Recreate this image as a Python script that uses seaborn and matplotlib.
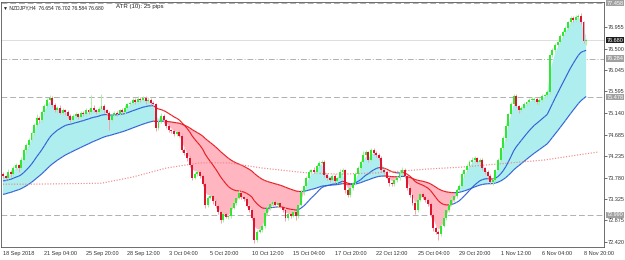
import numpy as np
import pandas as pd
import matplotlib
matplotlib.use("Agg")
import matplotlib.pyplot as plt
import matplotlib.transforms as mtransforms
from matplotlib.collections import LineCollection
import seaborn as sns

# ---- data (NZDJPY H4) ----
first_open = 73.85
closes = [
    73.81, 73.77, 73.90, 73.85, 73.98, 74.04, 73.98, 74.15, 74.36, 74.47, 74.57, 74.72, 74.89, 75.04, 74.99, 75.16,
    75.29, 75.42, 75.46, 75.31, 75.20, 75.25, 75.14, 75.20, 75.16, 75.08, 74.99, 75.08, 75.12, 75.06, 75.14, 75.12,
    75.20, 75.16, 75.25, 75.20, 75.16, 75.23, 75.29, 75.20, 75.14, 74.99, 75.10, 75.14, 75.12, 75.20, 75.16, 75.25,
    75.33, 75.35, 75.42, 75.37, 75.44, 75.42, 75.46, 75.39, 75.42, 75.35, 75.33, 74.82, 74.95, 75.08, 74.99, 74.87,
    74.78, 74.76, 74.70, 74.74, 74.66, 74.36, 74.30, 74.19, 74.04, 73.77, 73.85, 73.90, 73.81, 73.64, 73.20, 73.35,
    73.39, 73.28, 73.18, 73.05, 72.88, 73.01, 72.95, 72.97, 73.14, 73.24, 73.35, 73.45, 73.37, 73.33, 73.18, 73.10,
    72.93, 72.46, 72.63, 72.67, 72.76, 73.03, 73.14, 73.22, 73.26, 73.20, 73.24, 73.16, 73.10, 72.93, 73.01, 72.97,
    73.05, 72.97, 73.20, 73.47, 73.60, 73.77, 73.90, 73.94, 73.90, 74.02, 74.09, 74.11, 73.83, 73.77, 73.73, 73.81,
    73.71, 73.77, 73.90, 73.94, 73.52, 73.41, 73.56, 73.66, 73.85, 73.98, 74.11, 74.25, 74.32, 74.15, 74.36, 74.30,
    74.25, 74.19, 73.94, 73.90, 73.77, 73.66, 73.64, 73.73, 73.77, 73.88, 73.94, 73.81, 73.56, 73.41, 73.24, 73.10,
    73.31, 73.43, 73.37, 73.31, 73.22, 72.99, 72.72, 72.63, 72.59, 72.76, 72.93, 73.10, 73.20, 73.31, 73.39, 73.52,
    73.60, 73.85, 73.94, 74.02, 74.11, 74.15, 74.19, 74.11, 74.15, 73.98, 73.90, 73.81, 73.69, 73.73, 73.94, 74.15,
    74.40, 74.61, 74.87, 75.12, 75.33, 75.50, 75.29, 75.20, 75.25, 75.33, 75.37, 75.42, 75.42, 75.44, 75.37, 75.42,
    75.50, 75.52, 75.58, 76.36, 76.47, 76.58, 76.64, 76.76, 76.85, 76.93, 77.06, 77.14, 77.10, 77.17, 77.19, 77.06,
    76.654, 76.680,
]
# wick lengths in pips (0.01)
wick_up = [
    4, 3, 6, 3, 5, 4, 3, 6, 4, 3, 5, 4, 3, 8, 4, 5, 4, 3, 6, 3, 5, 4, 6, 5, 3, 4, 4, 5, 4, 3, 5, 4,
    4, 3, 27, 5, 3, 4, 25, 4, 3, 4, 3, 4, 5, 3, 4, 6, 3, 5, 4, 4, 6, 3, 5, 4, 5, 3, 4, 3, 5, 6, 4, 3,
    4, 3, 5, 3, 4, 5, 4, 3, 6, 4, 5, 4, 3, 4, 5, 4, 5, 3, 4, 4, 3, 5, 4, 3, 5, 4, 3, 6, 4, 3, 4, 3,
    4, 3, 5, 4, 6, 4, 5, 3, 4, 5, 4, 3, 4, 5, 4, 3, 4, 3, 5, 4, 3, 5, 4, 3, 6, 4, 4, 3, 5, 4, 3, 4,
    4, 3, 5, 4, 3, 4, 5, 3, 4, 5, 4, 8, 4, 3, 5, 4, 3, 4, 5, 4, 3, 4, 3, 5, 4, 3, 6, 4, 3, 4, 5, 3,
    4, 3, 5, 4, 3, 4, 5, 3, 4, 5, 4, 3, 4, 5, 3, 4, 4, 5, 3, 4, 5, 6, 4, 3, 5, 4, 3, 4, 5, 4, 3, 4,
    3, 4, 5, 3, 4, 5, 4, 3, 4, 5, 3, 4, 5, 4, 3, 4, 4, 3, 4, 3, 5, 4, 3, 4, 5, 4, 3, 5, 4, 3, 4, 5,
    3, 2,
]
wick_dn = [
    5, 4, 3, 6, 4, 5, 8, 4, 3, 6, 4, 3, 5, 4, 6, 3, 4, 5, 3, 4, 4, 5, 3, 4, 6, 4, 3, 4, 5, 4, 3, 5,
    4, 5, 3, 4, 4, 3, 4, 5, 4, 20, 4, 3, 4, 5, 3, 4, 4, 3, 5, 4, 3, 4, 3, 5, 4, 3, 4, 6, 4, 3, 5, 4,
    3, 4, 5, 4, 3, 5, 4, 6, 4, 5, 3, 4, 5, 4, 6, 4, 3, 5, 4, 3, 5, 4, 3, 4, 5, 3, 4, 3, 5, 4, 3, 4,
    5, 6, 4, 3, 4, 5, 3, 4, 3, 5, 4, 3, 4, 6, 4, 5, 3, 8, 4, 3, 5, 4, 3, 4, 3, 5, 4, 3, 4, 5, 4, 3,
    5, 4, 3, 4, 6, 4, 3, 5, 4, 3, 4, 3, 5, 4, 3, 4, 4, 3, 5, 4, 3, 6, 4, 3, 4, 5, 3, 4, 5, 4, 3, 8,
    4, 3, 5, 4, 3, 5, 6, 4, 12, 4, 3, 5, 4, 3, 4, 5, 3, 4, 5, 4, 3, 4, 5, 3, 4, 5, 4, 3, 4, 6, 4, 3,
    4, 3, 5, 4, 3, 4, 3, 5, 4, 3, 4, 5, 3, 4, 3, 5, 4, 3, 5, 4, 3, 4, 5, 3, 4, 5, 3, 4, 3, 4, 5, 4,
    3, 7,
]
date_labels = ["18 Sep 2018", "21 Sep 04:00", "25 Sep 20:00", "28 Sep 12:00", "3 Oct 04:00",
               "5 Oct 20:00", "10 Oct 12:00", "15 Oct 04:00", "17 Oct 20:00", "22 Oct 12:00",
               "25 Oct 04:00", "29 Oct 20:00", "1 Nov 12:00", "6 Nov 04:00", "8 Nov 20:00"]
label_bars = [0, 16, 32, 48, 64, 80, 96, 112, 128, 144, 160, 176, 192, 208, 224]
price_ticks = [72.420, 72.875, 73.325, 73.780, 74.235, 74.685, 75.140, 75.595, 76.045, 76.500, 76.955]

# long dotted average, read at a few bars
dotted_bars = [0, 11, 38, 50, 63, 76, 87, 100, 117, 130, 145, 164, 177, 196, 209, 221, 230]
dotted_vals = [73.64, 73.64, 73.66, 73.79, 73.98, 74.09, 74.09, 73.98, 73.88, 73.85, 73.88, 73.96,
               74.00, 74.09, 74.15, 74.25, 74.32]

# starting levels of the two averages at the left edge
mid_start = 73.70
slow_start = 73.41

# horizontal levels: (price, label, style)
levels = [(77.458, "77.458", "dash"), (76.284, "76.284", "dashdot"),
          (75.478, "75.478", "dash"), (72.990, "72.990", "dash")]
bid = 76.680

# ---- build frame ----
df = pd.DataFrame({"close": closes})
df["open"] = [first_open] + closes[:-1]
df["high"] = df[["open", "close"]].max(axis=1) + np.array(wick_up) / 100
df["low"] = df[["open", "close"]].min(axis=1) - np.array(wick_dn) / 100
df["bar"] = np.arange(len(df))

fast = pd.Series(closes).ewm(span=3, adjust=False).mean().values
mid = pd.Series([mid_start] + closes).ewm(span=21, adjust=False).mean().values[1:]
slow = pd.Series([slow_start] + closes).ewm(span=55, adjust=False).mean().values[1:]

sns.set_style("white")
plt.rcParams["font.family"] = ["Liberation Sans", "DejaVu Sans"]

fig = plt.figure(figsize=(6.25, 2.6), dpi=100)
ax = fig.add_axes([0.0016, 13 / 260, 603 / 625, 245 / 260])

x = df["bar"].values
ax.fill_between(x, fast, slow, where=fast >= slow, interpolate=True, color="#AFEEEE", lw=0, zorder=1)
ax.fill_between(x, fast, slow, where=fast < slow, interpolate=True, color="#FFB6C1", lw=0, zorder=1)

# moving averages coloured by slope
for line in (mid, slow):
    pts = np.column_stack([x, line])
    segs = np.stack([pts[:-1], pts[1:]], axis=1)
    cols = np.where(np.diff(line) >= 0, "#2A5BD7", "#E8161B")
    ax.add_collection(LineCollection(segs, colors=cols, linewidths=0.8, zorder=3))

sns.lineplot(x=dotted_bars, y=dotted_vals, ax=ax, color="#F08080", lw=0.8,
             linestyle=(0, (1, 1.5)), zorder=3)

# horizontal levels
for price, _, style in levels:
    ls = (0, (6, 3)) if style == "dash" else (0, (6, 2, 1, 2))
    ax.axhline(price, color="#B0B0B0", lw=0.7, linestyle=ls, zorder=0)
ax.axhline(bid, color="#D8D8D8", lw=0.6, zorder=0)

# candles
bull = df["close"] >= df["open"]
wick_cols = np.where(bull, "#A8F0A8", "#F4A3AE")
body_cols = np.where(bull, "#33E633", "#E0142F")
ax.vlines(x, df["low"], df["high"], colors=wick_cols, lw=0.7, zorder=4)
body_h = (df["close"] - df["open"]).abs().clip(lower=0.006)
ax.bar(x, body_h, bottom=df[["open", "close"]].min(axis=1), width=0.75,
       color=body_cols, lw=0, zorder=5)

ax.set_xlim(-0.77, 231.9)
ax.set_ylim(72.315, 77.482)

ax.yaxis.tick_right()
ax.set_yticks(price_ticks)
ax.set_yticklabels([f"{p:.3f}" for p in price_ticks], fontsize=4.0)
ax.set_xticks(label_bars)
ax.set_xticklabels(date_labels, fontsize=4.0, ha="left")
ax.tick_params(axis="both", length=1.8, width=0.5, pad=0.8, colors="#333333")
for sp in ax.spines.values():
    sp.set_color("#555555")
    sp.set_linewidth(0.6)

# price boxes on the right axis
tr = mtransforms.blended_transform_factory(ax.transAxes, ax.transData)
for price, txt, _ in levels:
    ax.text(1.004, price, txt, transform=tr, fontsize=4.0, color="white", va="center", ha="left",
            bbox=dict(boxstyle="square,pad=0.15", fc="#A0A0A0", ec="none"), clip_on=False, zorder=6)
ax.text(1.004, bid, f"{bid:.3f}", transform=tr, fontsize=4.0, color="white", va="center", ha="left",
        bbox=dict(boxstyle="square,pad=0.15", fc="#1E1E1E", ec="none"), clip_on=False, zorder=6)

ax.text(0.004, 0.985, "\u25BC NZDJPY,H4  76.654 76.702 76.584 76.680", transform=ax.transAxes,
        fontsize=3.6, va="top", ha="left", color="#222222")
ax.text(0.19, 0.99, "ATR (10): 25 pips", transform=ax.transAxes, fontsize=4.4, va="top",
        ha="left", color="#222222")
ax.set_xlabel("")
ax.set_ylabel("")

fig.savefig("out.png", dpi=100)
